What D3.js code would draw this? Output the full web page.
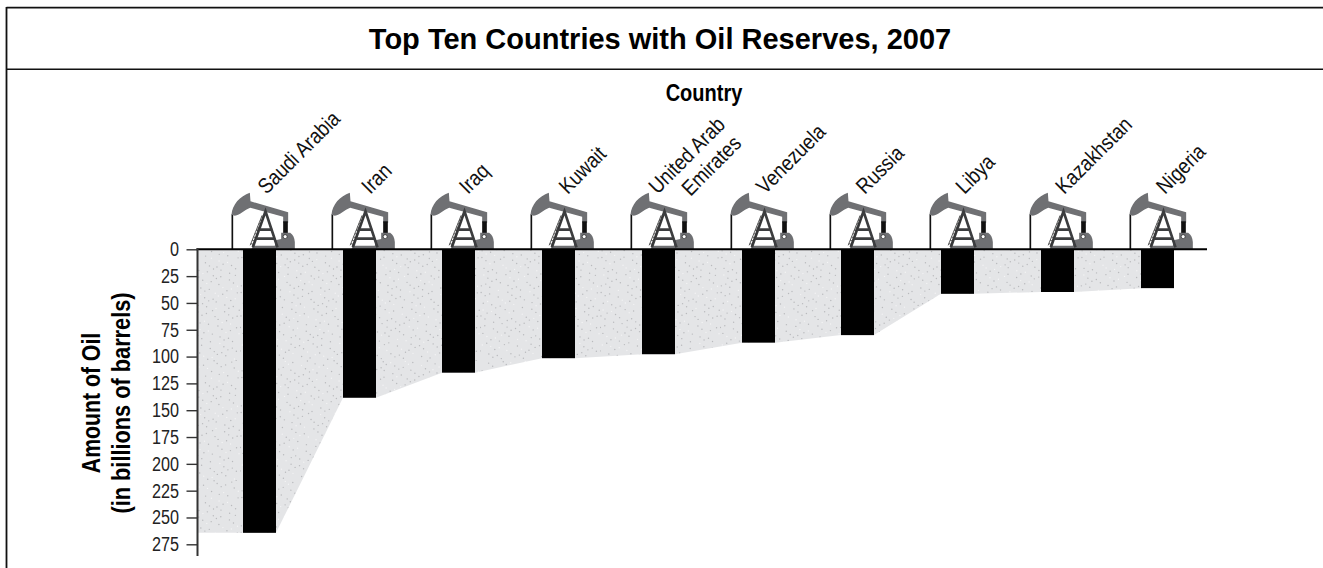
<!DOCTYPE html>
<html>
<head>
<meta charset="utf-8">
<script src="https://cdnjs.cloudflare.com/ajax/libs/d3/7.8.5/d3.min.js"></script>
<style>
  html, body { margin: 0; padding: 0; background: #fff; }
  svg { display: block; }
  text { font-family: "Liberation Sans", Arial, sans-serif; }
</style>
</head>
<body>
<svg id="chart" width="1323" height="568"></svg>
<script>
// Proved oil reserves in billions of barrels
const countries = ["Saudi Arabia", "Iran", "Iraq", "Kuwait", "United Arab Emirates",
                   "Venezuela", "Russia", "Libya", "Kazakhstan", "Nigeria"];
const reserves = [264.3, 138.4, 115, 101.5, 97.8, 87, 80, 41.5, 39.8, 36.2];
const yTicks = [0, 25, 50, 75, 100, 125, 150, 175, 200, 225, 250, 275];
const titleText = "Top Ten Countries with Oil Reserves, 2007";
const xTitle = "Country";
const yTitleLines = ["Amount of Oil", "(in billions of barrels)"];

const svg = d3.select("#chart");

const x = d3.scalePoint().domain(countries).range([259.5, 1157]);
const barW = 33;
const barLeft = c => Math.round(x(c) - barW / 2);
const y = d3.scaleLinear().domain([0, 275]).range([249.3, 544.3]);
const axisX = 197.5;

// Stippled tile for the band behind the bars; dots follow a Halton sequence
const halton = (i, base) => {
  let f = 1, r = 0;
  for (let n = i; n > 0; n = Math.floor(n / base)) {
    f /= base;
    r += f * (n % base);
  }
  return r;
};
const tileSize = 120;
const defs = svg.append("defs");
const tile = defs.append("pattern")
  .attr("id", "stipple").attr("patternUnits", "userSpaceOnUse")
  .attr("width", tileSize).attr("height", tileSize);
tile.append("rect").attr("width", tileSize).attr("height", tileSize).attr("fill", "#e4e5e7");
d3.range(1, 340).forEach(i => {
  tile.append("circle")
    .attr("cx", halton(i, 5) * tileSize)
    .attr("cy", halton(i, 7) * tileSize)
    .attr("r", 0.7)
    .attr("fill", i % 4 === 0 ? "#f4f4f5" : "#b9babd");
});

// Frame and title band
const frame = svg.append("g").attr("fill", "none").attr("stroke", "#111");
frame.append("line").attr("x1", 6.5).attr("x2", 1323).attr("y1", 7.6).attr("y2", 7.6).attr("stroke-width", 1.6);
frame.append("line").attr("x1", 6.5).attr("x2", 1323).attr("y1", 69.3).attr("y2", 69.3).attr("stroke-width", 1.6);
frame.append("line").attr("x1", 6.5).attr("x2", 6.5).attr("y1", 7).attr("y2", 568).attr("stroke-width", 1.8);

svg.append("text")
  .attr("x", 660).attr("y", 49).attr("text-anchor", "middle")
  .attr("font-weight", 700).attr("font-size", 29).attr("fill", "#000")
  .text(titleText);

// Condensed setting for every other label
const squeeze = (px, py, sx, rot = 0) => `translate(${px},${py}) rotate(${rot}) scale(${sx},1)`;

svg.append("text")
  .attr("transform", squeeze(704, 101, 0.87))
  .attr("text-anchor", "middle")
  .attr("font-weight", 700).attr("font-size", 23).attr("fill", "#000")
  .text(xTitle);

// Stepped area: flat under each bar, sloping between neighbours
const edge = [];
countries.forEach((c, i) => {
  edge.push([i === 0 ? axisX : barLeft(c), reserves[i]]);
  edge.push([i < countries.length - 1 ? barLeft(c) + barW : barLeft(c) + 1, reserves[i]]);
});
svg.append("path")
  .attr("fill", "url(#stipple)")
  .attr("d", d3.area().x(d => d[0]).y0(y(0)).y1(d => y(d[1]))(edge));

// Bars hanging from the zero line
svg.append("g").selectAll("rect").data(countries).join("rect")
  .attr("x", barLeft)
  .attr("y", y(0))
  .attr("width", barW)
  .attr("height", (c, i) => y(reserves[i]) - y(0))
  .attr("fill", "#000");

// Pump jack icon, drawn in a local grid three times finer than a pixel
// with its origin on the zero line under the middle of the bar
function drawPump(g) {
  const k = g.append("g").attr("transform", "scale(0.3333)");
  const gray = "#6f7073";
  k.append("line").attr("x1", -81.5).attr("x2", -81.5).attr("y1", -105).attr("y2", 0)
    .attr("stroke", "#111").attr("stroke-width", 5);
  // horse head and walking beam
  k.append("path").attr("fill", gray)
    .attr("d", "M-84,-104 C-82,-135 -58,-160 -29,-170 L-27,-144 L86,-111 L86,-80 L71,-80 L71,-98 L-28,-125 C-45,-118 -58,-104 -74,-101 Z");
  // pitman arm
  k.append("rect").attr("x", 71).attr("y", -84).attr("width", 14).attr("height", 37).attr("fill", "#111");
  // gear box and base
  k.append("path").attr("fill", gray)
    .attr("d", "M-24,0 L-20,-11 L46,-11 L48,-27 L65,-31 L65,-50 L92,-50 C101,-44 105,-36 106,-22 L106,0 Z");
  k.append("circle").attr("cx", 77).attr("cy", -38).attr("r", 6).attr("fill", "#fff").attr("stroke", "#222").attr("stroke-width", 2);
  // A-frame tower
  const tower = k.append("g").attr("stroke", "#3c3d3f").attr("fill", "none");
  tower.append("path").attr("stroke-width", 8).attr("d", "M-20,-6 L18,-114 L54,-6");
  tower.append("path").attr("stroke-width", 8).attr("d", "M-6,-59 L38,-59 M-14,-32 L46,-32");
  // ladder
  const ladder = k.append("g").attr("stroke", "#333").attr("fill", "none").attr("stroke-width", 2.4);
  ladder.append("path").attr("d", "M-28,-12 L8,-102 M-20,-10 L14,-100");
  d3.range(9).forEach(i => {
    const t = (i + 0.5) / 9;
    const ax = -28 + 36 * t, ay = -12 - 90 * t;
    ladder.append("line").attr("x1", ax).attr("y1", ay).attr("x2", ax + 7).attr("y2", ay + 2);
  });
}
svg.append("g").selectAll("g").data(countries).join("g")
  .attr("transform", c => `translate(${barLeft(c) + barW / 2},${y(0)})`)
  .each(function () { drawPump(d3.select(this)); });

// Zero line
svg.append("line")
  .attr("x1", axisX - 1).attr("x2", 1207)
  .attr("y1", y(0)).attr("y2", y(0))
  .attr("stroke", "#000").attr("stroke-width", 2);

// Value axis, growing downward
const axis = svg.append("g")
  .attr("transform", `translate(${axisX},0)`)
  .call(d3.axisLeft(y).tickValues(yTicks).tickSize(11).tickPadding(7));
axis.select(".domain").remove();
axis.selectAll(".tick line").attr("stroke", "#333").attr("stroke-width", 1.4);
axis.selectAll(".tick text")
  .attr("x", 0).attr("transform", squeeze(-18.5, 0, 0.81))
  .attr("font-size", 20).attr("fill", "#222")
  .attr("font-family", '"Liberation Sans", Arial, sans-serif');
svg.append("line")
  .attr("x1", axisX).attr("x2", axisX).attr("y1", y(0) - 1).attr("y2", 556)
  .attr("stroke", "#333").attr("stroke-width", 2);

// Axis title, rotated up the left side
yTitleLines.forEach((line, i) => {
  svg.append("text")
    .attr("transform", squeeze(100 + i * 30, 403, 0.85 + i * 0.02, -90))
    .attr("text-anchor", "middle")
    .attr("font-weight", 700).attr("font-size", 25).attr("fill", "#000")
    .text(line);
});

// Country names on a 45 degree slant; the long name wraps to two lines
const labelLines = c => c === "United Arab Emirates" ? ["United Arab", "Emirates"] : [c];
const labelNudge = { "Iran": 4, "Iraq": 2, "Kuwait": 2, "Nigeria": 1 };
const labels = svg.append("g").attr("font-size", 21.5).attr("fill", "#111");
countries.forEach(c => {
  const lines = labelLines(c);
  const dx = (lines.length > 1 ? -1 : 7) + (labelNudge[c] || 0);
  const t = labels.append("g").attr("transform", `translate(${x(c) + dx},195) rotate(-45)`);
  lines.forEach((line, i) => {
    t.append("text").attr("transform", `translate(${i * 22},${i * 24.7}) scale(0.87,1)`).text(line);
  });
});
</script>
</body>
</html>
